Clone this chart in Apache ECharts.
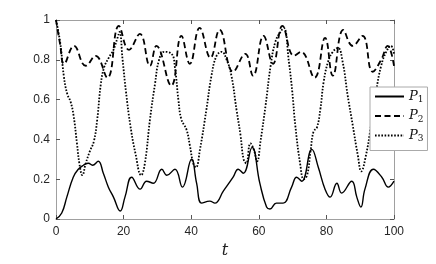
<!DOCTYPE html>
<html><head><meta charset="utf-8">
<script src="https://cdn.jsdelivr.net/npm/echarts@6/dist/echarts.min.js"></script>
<style>html,body{margin:0;padding:0;background:#fff}#c{width:436px;height:264px}</style>
</head><body><div id="c"></div>
<script>
const xTicks = [0, 20, 40, 60, 80, 100];
const yTicks = [0, 0.2, 0.4, 0.6, 0.8, 1];
const seriesNames = ['P1', 'P2', 'P3'];
const tP1 = [0,1.7,3.2,5.1,6.6,8.1,9.6,10.8,12.5,14,15.5,17,19,20.4,22.4,24.9,26.8,28.8,31.3,32.8,35.2,37.4,40.1,41.6,43.1,45.5,47,49.5,52.4,53.9,55.4,58,60.3,62.3,63.3,65.2,67.2,69.7,71.2,72.7,75.7,77.6,79.6,81.1,83.1,84.5,87.5,89,90.2,91.4,93.9,96.4,98.3,100];
const vP1 = [0,0.03,0.11,0.21,0.25,0.27,0.28,0.27,0.29,0.23,0.16,0.11,0.04,0.11,0.21,0.15,0.19,0.18,0.25,0.22,0.25,0.16,0.30,0.18,0.08,0.09,0.08,0.14,0.21,0.25,0.23,0.36,0.18,0.06,0.05,0.08,0.08,0.16,0.21,0.19,0.35,0.26,0.15,0.11,0.18,0.13,0.19,0.11,0.06,0.15,0.25,0.21,0.16,0.19];
const tP2 = [0,1.2,2.4,5.3,8.8,11.7,15.2,18.6,21.6,24.8,27.8,29.7,34.1,37.1,39.6,42.5,45.7,48.4,52.4,56.0,58.3,61.4,64.2,67.0,70.4,72.5,76.5,79.6,81.9,85,87.8,90.7,93.7,96.2,98.1,100];
const vP2 = [1.0,0.88,0.78,0.87,0.77,0.82,0.71,0.97,0.85,0.93,0.77,0.87,0.67,0.92,0.78,0.96,0.81,0.95,0.74,0.83,0.72,0.92,0.78,0.97,0.82,0.84,0.71,0.91,0.72,0.95,0.87,0.92,0.74,0.8,0.87,0.77];
const tP3 = [0,1.3,2.3,3.3,4.3,5.2,6.2,7.0,7.8,8.8,10.0,11.2,12.2,13.2,14.2,15.6,17.0,18.2,18.8,19.7,20.7,22.0,23.5,25.2,26.3,27.8,29.3,30.5,32.0,34.2,35.2,36.2,37.1,38.6,39.6,40.6,41.4,42.6,44.5,46,47.5,49,50.5,51.9,53.4,54.6,55.5,56.3,57.5,58.5,59.5,60.5,62,63.5,64.9,66.4,67.4,68.9,69.9,70.8,72.3,73.3,74.3,75.3,76.2,77.2,78.2,79.2,80.5,81.9,83.4,84.8,86.3,87.8,89.3,90.3,91.7,93.2,94.7,96.2,97.7,99.1,100];
const vP3 = [1,0.88,0.72,0.63,0.59,0.52,0.38,0.27,0.22,0.28,0.34,0.39,0.5,0.67,0.76,0.81,0.85,0.91,0.94,0.8,0.64,0.47,0.33,0.22,0.28,0.5,0.68,0.8,0.84,0.83,0.76,0.6,0.5,0.45,0.37,0.28,0.26,0.35,0.55,0.72,0.82,0.84,0.8,0.72,0.55,0.42,0.3,0.28,0.38,0.35,0.29,0.39,0.57,0.77,0.89,0.94,0.96,0.79,0.64,0.47,0.27,0.2,0.22,0.34,0.44,0.46,0.55,0.69,0.79,0.84,0.86,0.79,0.62,0.47,0.32,0.24,0.32,0.47,0.64,0.77,0.84,0.87,0.83];

const zip = (a, b) => a.map((x, i) => [x, b[i]]);
const axisGray = '#a0a0a0';
const labelColor = '#262626';
const fontSans = 'Liberation Sans, Arial, sans-serif';

function mkX(pos, show) {
  return {
    type: 'value', position: pos, min: 0, max: 100, interval: 20,
    axisLine: { show: true, onZero: false, lineStyle: { color: axisGray, width: 1 } },
    axisTick: { show: true, inside: true, length: 4, lineStyle: { color: '#555' } },
    axisLabel: { show: show, color: labelColor, fontSize: 12, fontFamily: fontSans, margin: 7 },
    splitLine: { show: false }
  };
}
function mkY(pos, show) {
  return {
    type: 'value', position: pos, min: 0, max: 1, interval: 0.2,
    axisLine: { show: true, onZero: false, lineStyle: { color: axisGray, width: 1 } },
    axisTick: { show: true, inside: true, length: 4, lineStyle: { color: '#555' } },
    axisLabel: { show: show, color: labelColor, fontSize: 12, fontFamily: fontSans, margin: 6,
      formatter: v => String(Math.round(v * 10) / 10) },
    splitLine: { show: false }
  };
}
const xb = mkX('bottom', true);
xb.name = 't';
xb.nameLocation = 'middle';
xb.nameGap = 24;
xb.nameTextStyle = { fontFamily: 'DejaVu Serif, serif', fontStyle: 'italic', fontSize: 16, color: '#222' };

const styles = [
  { type: 'solid', width: 1.4 },
  { type: [6, 3.5], width: 1.8 },
  { type: [1.6, 1.6], width: 1.8 }
];
const datas = [zip(tP1, vP1), zip(tP2, vP2), zip(tP3, vP3)];

const chart = echarts.init(document.getElementById('c'), null, { renderer: 'canvas' });
chart.setOption({
  animation: false,
  backgroundColor: '#fff',
  grid: { left: 56, right: 42, top: 20, bottom: 45, containLabel: false },
  xAxis: [xb, mkX('top', false)],
  yAxis: [mkY('left', true), mkY('right', false)],
  legend: {
    orient: 'vertical', left: 370, top: 87,
    backgroundColor: '#fff', borderColor: '#aaa', borderWidth: 1, borderRadius: 0,
    padding: [3, 4, 7, 4], itemGap: 5, itemWidth: 29, itemHeight: 14,
    data: seriesNames,
    itemStyle: { opacity: 0, borderWidth: 0 },
    formatter: n => '{p|P}{s|' + n.slice(1) + '}',
    textStyle: {
      rich: {
        p: { fontFamily: 'DejaVu Serif, serif', fontStyle: 'italic', fontSize: 13, color: '#111' },
        s: { fontFamily: 'DejaVu Serif, serif', fontSize: 9, color: '#111', padding: [7, 0, 0, 0] }
      }
    }
  },
  series: seriesNames.map((n, i) => ({
    name: n, type: 'line', data: datas[i], smooth: 0.45,
    showSymbol: false, symbol: 'none', xAxisIndex: 0, yAxisIndex: 0,
    lineStyle: Object.assign({ color: '#000' }, styles[i]),
    itemStyle: { color: '#000' }, z: 3 - i
  }))
});
</script></body></html>
